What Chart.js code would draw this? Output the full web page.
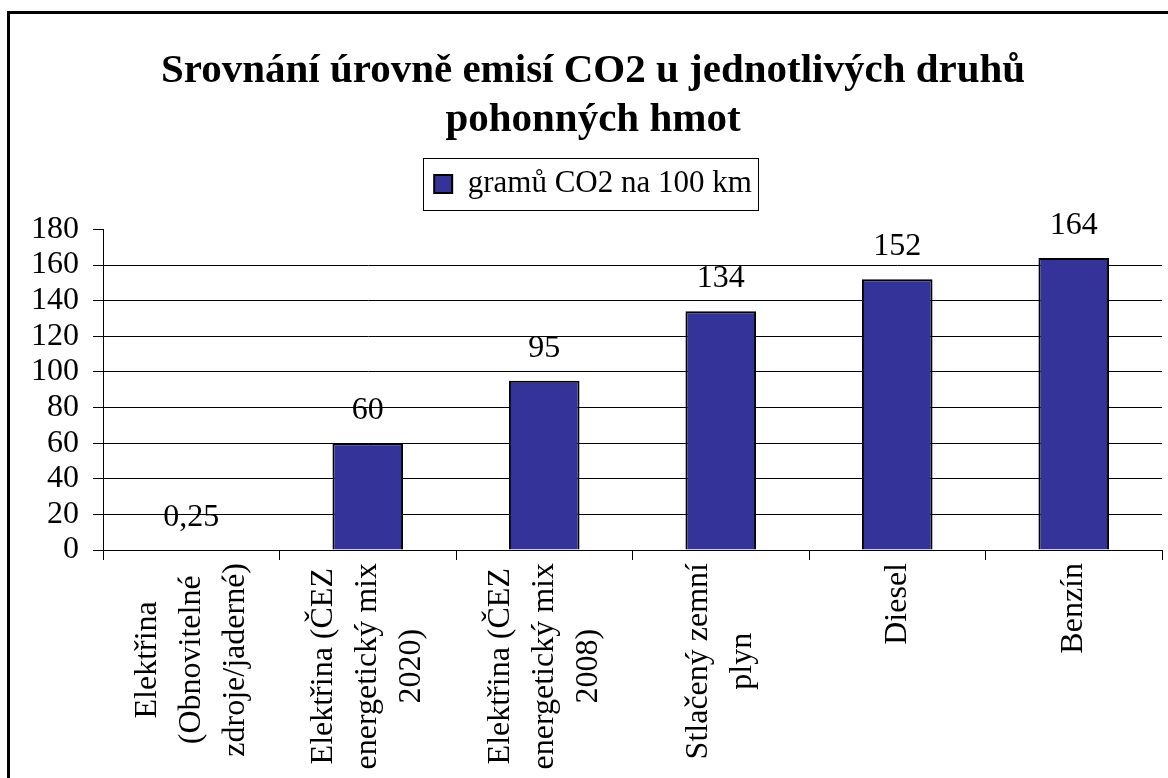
<!DOCTYPE html>
<html><head><meta charset="utf-8">
<script src="https://cdn.jsdelivr.net/npm/chart.js@4.4.1/dist/chart.umd.min.js"></script>
<style>html,body{margin:0;padding:0;background:#fff;} canvas{display:block;}</style>
</head><body>
<canvas id="c" width="1168" height="778"></canvas>
<script>
// ---- data ----
const categories = [
  ['Elektřina', '(Obnovitelné', 'zdroje/jaderné)'],
  ['Elektřina (ČEZ', 'energetický mix', '2020)'],
  ['Elektřina (ČEZ', 'energetický mix', '2008)'],
  ['Stlačený zemní', 'plyn'],
  ['Diesel'],
  ['Benzín']
];
const values = [0.25, 60, 95, 134, 152, 164];
const seriesName = 'gramů CO2 na 100 km';
const titleLines = ['Srovnání úrovně emisí CO2 u jednotlivých druhů', 'pohonných hmot'];
const yMin = 0, yMax = 180, yStep = 20;

const FONT = "'Liberation Serif', 'Times New Roman', serif";
Chart.defaults.font.family = FONT;
Chart.defaults.color = '#000';

const fmt = v => String(v).replace('.', ',');

const framePlugin = {
  id: 'frame',
  afterDraw(chart) {
    const ctx = chart.ctx;
    ctx.save();
    ctx.strokeStyle = '#000';
    ctx.lineWidth = 3;
    ctx.strokeRect(8.5, 12.5, 1250, 850);
    ctx.restore();
  }
};

const legendBorder = {
  id: 'legendBorder',
  afterDraw(chart) {
    const lg = chart.legend;
    if (!lg || !lg.legendHitBoxes || !lg.legendHitBoxes.length) return;
    const hb = lg.legendHitBoxes[0];
    const cy = hb.top + hb.height / 2;
    const ctx = chart.ctx;
    ctx.save();
    ctx.strokeStyle = '#000';
    ctx.lineWidth = 1;
    const l = Math.round(hb.left - 11) + 0.5;
    const r = Math.round(hb.left + hb.width + 6) + 0.5;
    const t = Math.round(cy - 26) + 0.5;
    const b = Math.round(cy + 26) + 0.5;
    ctx.strokeRect(l, t, r - l, b - t);
    ctx.restore();
  }
};

const valueLabelsPlugin = {
  id: 'valueLabels',
  afterDatasetsDraw(chart) {
    const ctx = chart.ctx;
    const meta = chart.getDatasetMeta(0);
    ctx.save();
    ctx.font = '32px ' + FONT;
    ctx.fillStyle = '#000';
    ctx.textAlign = 'center';
    ctx.textBaseline = 'alphabetic';
    meta.data.forEach((bar, i) => {
      ctx.fillText(fmt(values[i]), bar.x, bar.y - 24);
    });
    ctx.restore();
  }
};

const xLabelsPlugin = {
  id: 'xLabels',
  afterDraw(chart) {
    const xs = chart.scales.x;
    const ctx = chart.ctx;
    const axisY = chart.chartArea.bottom;
    const lh = 44;
    ctx.save();
    ctx.font = '32px ' + FONT;
    ctx.fillStyle = '#000';
    ctx.textAlign = 'center';
    ctx.textBaseline = 'middle';
    categories.forEach((lines, i) => {
      const cx = xs.getPixelForValue(i);
      const maxW = Math.max(...lines.map(s => ctx.measureText(s).width));
      const cy = axisY + 13 + maxW / 2;
      const n = lines.length;
      lines.forEach((s, j) => {
        const x = cx + (j - (n - 1) / 2) * lh;
        ctx.save();
        ctx.translate(x, cy);
        ctx.rotate(-Math.PI / 2);
        ctx.fillText(s, 0, 0);
        ctx.restore();
      });
    });
    ctx.restore();
  }
};

new Chart(document.getElementById('c'), {
  type: 'bar',
  data: {
    labels: categories,
    datasets: [{
      label: seriesName,
      data: values,
      backgroundColor: '#333399',
      borderColor: '#000',
      borderWidth: 2,
      categoryPercentage: 1,
      barPercentage: 0.4
    }]
  },
  options: {
    responsive: false,
    animation: false,
    devicePixelRatio: 1,
    layout: { padding: { left: 24, right: 6, top: 0, bottom: 0 } },
    plugins: {
      title: {
        display: true,
        text: titleLines,
        font: { size: 41, weight: 'bold', family: FONT },
        color: '#000',
        padding: { top: 47, bottom: 0 }
      },
      subtitle: {
        display: true,
        text: ' ',
        weight: 500,
        font: { size: 10 },
        padding: { top: 8, bottom: 0 }
      },
      legend: {
        display: true,
        position: 'top',
        labels: {
          font: { size: 31, family: FONT },
          color: '#000',
          boxWidth: 18,
          boxHeight: 18,
          padding: 23
        }
      },
      tooltip: { enabled: false }
    },
    scales: {
      x: {
        afterFit(s) { s.height = 228; },
        grid: { display: true, drawOnChartArea: false, offset: true, tickLength: 10, color: '#000', lineWidth: 1 },
        border: { display: true, color: '#000', width: 1 },
        ticks: { display: false }
      },
      y: {
        min: yMin, max: yMax,
        afterFit(s) { s.width = 79; },
        ticks: { stepSize: yStep, autoSkip: false, font: { size: 32, family: FONT }, color: '#000', padding: 14 },
        grid: {
          color: c => (c.tick && c.tick.value === yMax) ? 'rgba(0,0,0,0)' : '#000',
          tickColor: '#000',
          lineWidth: 1,
          tickLength: 10
        },
        border: { display: true, color: '#000', width: 1 }
      }
    }
  },
  plugins: [framePlugin, legendBorder, valueLabelsPlugin, xLabelsPlugin]
});
</script>
</body></html>
